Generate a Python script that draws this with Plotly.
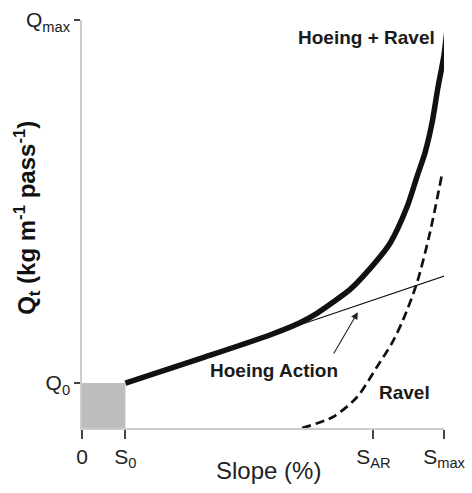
import plotly.graph_objects as go

# Key slope / discharge levels (arbitrary units)
S0, S_AR, S_MAX = 1.2, 8.05, 10.0
Q0, Q_MAX = 1.1, 10.0

# Combined hoeing + ravel transport curve
combined_x = [1.2, 3.26, 5.19, 6.02, 6.49, 6.93, 7.40, 7.87, 8.51, 8.98,
              9.25, 9.48, 9.67, 9.83, 10.0, 10.11]
combined_y = [1.1, 1.70, 2.28, 2.58, 2.81, 3.08, 3.39, 3.82, 4.53, 5.42,
              6.15, 6.76, 7.48, 8.33, 9.14, 9.98]

# Hoeing-only continuation (linear trend)
hoeing_x = [5.19, 10.03]
hoeing_y = [2.28, 3.73]

# Ravel contribution
ravel_x = [6.08, 6.93, 7.60, 8.15, 8.56, 8.87, 9.25, 9.61, 9.94]
ravel_y = [0.0, 0.27, 0.76, 1.50, 2.08, 2.65, 3.55, 4.78, 6.20]

x_tickvals = [0, S0, S_AR, S_MAX]
x_ticktext = ["0", "S<sub>0</sub>", "S<sub>AR</sub>", "S<sub>max</sub>"]
y_tickvals = [Q0, Q_MAX]
y_ticktext = ["Q<sub>0</sub>", "Q<sub>max</sub>"]

FONT = "Liberation Sans, Arial, sans-serif"

fig = go.Figure()

fig.add_trace(go.Scatter(
    x=ravel_x, y=ravel_y, mode="lines", line_shape="spline",
    line=dict(color="#111111", width=2.7, dash="9px,5px", smoothing=0.8),
    cliponaxis=False, hoverinfo="skip"))

fig.add_trace(go.Scatter(
    x=hoeing_x, y=hoeing_y, mode="lines",
    line=dict(color="#111111", width=1.2),
    cliponaxis=False, hoverinfo="skip"))

fig.add_trace(go.Scatter(
    x=combined_x, y=combined_y, mode="lines", line_shape="spline",
    line=dict(color="#111111", width=5.5, smoothing=0.7),
    cliponaxis=False, hoverinfo="skip"))

# Threshold region below S0 / Q0
fig.add_shape(type="rect", x0=0, x1=S0, y0=0, y1=Q0,
              fillcolor="#bdbdbd", line=dict(width=0), layer="below")

label_font = dict(family=FONT, size=19, color="#1a1a1a")
fig.add_annotation(x=7.85, y=9.58, text="<b>Hoeing + Ravel</b>",
                   showarrow=False, font=label_font)
fig.add_annotation(x=5.30, y=1.40, text="<b>Hoeing Action</b>",
                   showarrow=False, font=label_font)
fig.add_annotation(x=8.92, y=0.88, text="<b>Ravel</b>",
                   showarrow=False, font=label_font)

# Pointer from the label to the hoeing trend line
fig.add_annotation(x=7.62, y=2.84, ax=6.93, ay=1.79,
                   xref="x", yref="y", axref="x", ayref="y",
                   text="", showarrow=True, arrowhead=2, arrowsize=1.3,
                   arrowwidth=1.1, arrowcolor="#222222")

# Axis titles
fig.add_annotation(x=0.514, y=-0.103, xref="paper", yref="paper",
                   xanchor="center", yanchor="middle",
                   text="Slope (%)", showarrow=False,
                   font=dict(family=FONT, size=24, color="#222222"))
fig.add_annotation(x=-0.152, y=0.515, xref="paper", yref="paper",
                   xanchor="center", yanchor="middle",
                   text="<b>Q<sub>t</sub> (kg m<sup>-1</sup> pass<sup>-1</sup>)</b>",
                   showarrow=False, textangle=-90,
                   font=dict(family=FONT, size=24, color="#111111"))

fig.update_layout(
    width=472, height=493,
    margin=dict(l=82, r=28, t=20, b=65),
    plot_bgcolor="white", paper_bgcolor="white",
    showlegend=False,
    font=dict(family=FONT, color="#222222"),
    xaxis=dict(
        range=[0, S_MAX], showgrid=False, zeroline=False, automargin=False,
        showline=True, linecolor="#cccccc", linewidth=1.5,
        tickmode="array", tickvals=x_tickvals, ticktext=x_ticktext,
        ticks="outside", ticklen=9, tickwidth=1.6, tickcolor="#444444",
        tickfont=dict(family=FONT, size=21, color="#222222"),
        fixedrange=True,
    ),
    yaxis=dict(
        range=[0, Q_MAX], showgrid=False, zeroline=False, automargin=False,
        showline=True, linecolor="#cccccc", linewidth=1.5,
        tickmode="array", tickvals=y_tickvals, ticktext=y_ticktext,
        ticks="outside", ticklen=6, tickwidth=1.6, tickcolor="#444444",
        tickfont=dict(family=FONT, size=21, color="#222222"),
        fixedrange=True,
    ),
)

fig.write_html("out.html")
